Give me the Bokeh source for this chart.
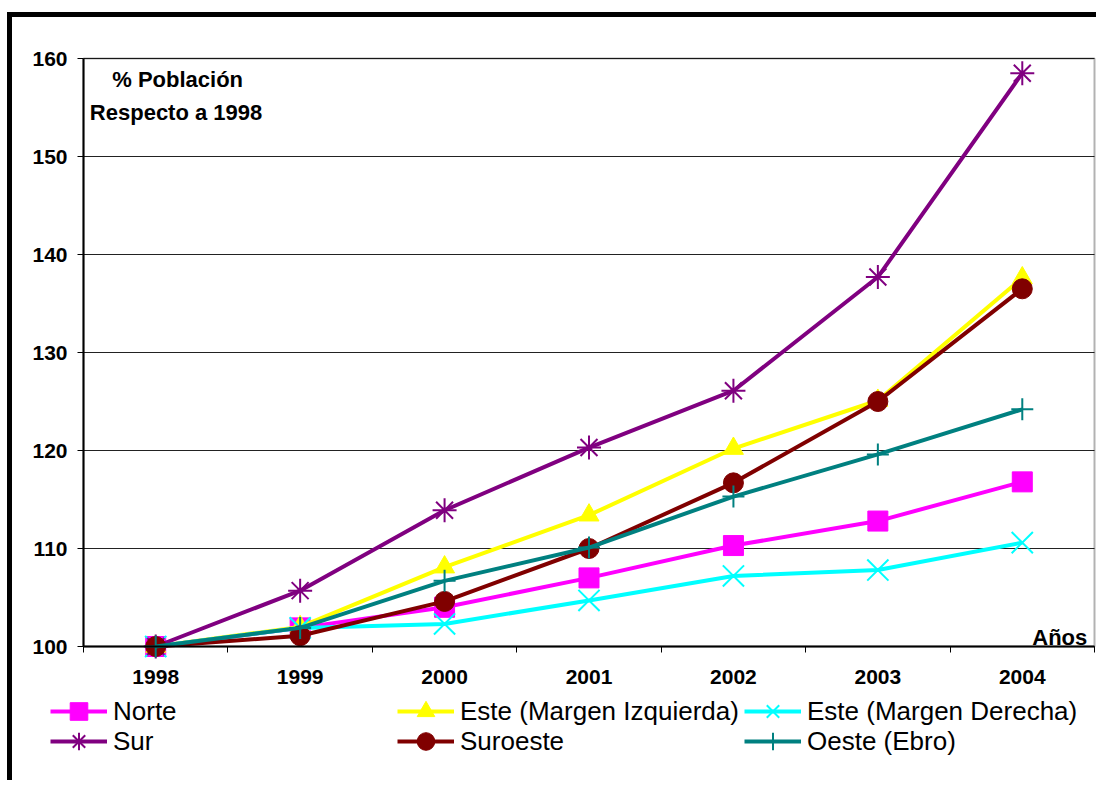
from bokeh.plotting import figure
from bokeh.models import (FixedTicker, Legend, LegendItem, Label, BoxAnnotation,
                          Range1d)
from bokeh.embed import file_html
from bokeh.resources import INLINE

# Population index by district (1998 = 100)
years = ["1998", "1999", "2000", "2001", "2002", "2003", "2004"]
norte = [100.0, 101.9, 104.0, 107.0, 110.3, 112.8, 116.8]
este_izq = [100.0, 102.0, 108.1, 113.4, 120.2, 125.1, 137.6]
este_der = [100.0, 101.9, 102.3, 104.7, 107.2, 107.8, 110.6]
sur = [100.0, 105.7, 113.9, 120.3, 126.1, 137.7, 158.5]
suroeste = [100.0, 101.1, 104.6, 110.0, 116.7, 125.0, 136.5]
oeste = [100.0, 101.9, 106.7, 110.1, 115.3, 119.6, 124.2]

series_names = ["Norte", "Este (Margen Izquierda)", "Este (Margen Derecha)",
                "Sur", "Suroeste", "Oeste (Ebro)"]
series_values = [norte, este_izq, este_der, sur, suroeste, oeste]
series_colors = ["#FF00FF", "#FFFF00", "#00FFFF", "#800080", "#800000", "#008080"]
series_markers = ["square", "triangle", "x", "asterisk", "circle", "cross"]
marker_sizes = [20, 20, 30, 24, 20, 22]

y_ticks = [100, 110, 120, 130, 140, 150, 160]
Y0, Y1 = 100, 160

# categories sit in the middle of each unit-wide slot
n = len(years)
xs = [i + 0.5 for i in range(n)]

FONT = "Liberation Sans"

# canvas geometry (px): the plotting box sits inside a larger frame so that the
# axis labels, notes and legend can all live in the same drawing area
W, H = 1089, 768
BOX_L, BOX_R, BOX_T, BOX_B = 71, 1082, 41, 629
ux = (BOX_R - BOX_L) / n
uy = (BOX_B - BOX_T) / (Y1 - Y0)
x_range = Range1d(-BOX_L / ux, n + (W - BOX_R) / ux)
y_range = Range1d(Y0 - (H - BOX_B) / uy, Y1 + BOX_T / uy)

p = figure(width=W, height=H, x_range=x_range, y_range=y_range,
           output_backend="svg", toolbar_location=None, min_border=0)
p.styles = {"border-top": "5px solid black", "border-left": "5px solid black"}
p.margin = (12, 0, 0, 7)

p.outline_line_color = None
p.background_fill_color = "white"
p.border_fill_color = "white"

# horizontal grid restricted to the plotting box
p.xgrid.visible = False
grid = p.ygrid[0]
grid.ticker = FixedTicker(ticks=y_ticks)
grid.grid_line_color = "#222222"
grid.grid_line_width = 1
if "cross_bounds" in grid.properties():
    grid.cross_bounds = (0, n)
else:
    grid.visible = False
    p.segment(x0=0, x1=n, y0=y_ticks, y1=y_ticks, line_color="#222222", line_width=1)

# x axis: labels at slot centres, tick marks at slot boundaries
xa = p.xaxis[0]
xa.fixed_location = Y0
xa.bounds = (0, n)
xa.ticker = FixedTicker(ticks=xs, minor_ticks=list(range(n + 1)))
xa.major_label_overrides = {x: y for x, y in zip(xs, years)}
xa.major_tick_out = 0
xa.major_tick_in = 0
xa.minor_tick_out = 6
xa.minor_tick_in = 0
xa.minor_tick_line_color = "black"
xa.minor_tick_line_width = 1
xa.axis_line_color = "black"
xa.axis_line_width = 2
xa.major_label_standoff = 17
xa.major_label_text_font = FONT
xa.major_label_text_font_style = "bold"
xa.major_label_text_font_size = "21px"
xa.major_label_text_color = "black"

ya = p.yaxis[0]
ya.fixed_location = 0
ya.bounds = (Y0, Y1)
ya.ticker = FixedTicker(ticks=y_ticks, minor_ticks=[])
ya.major_tick_out = 6
ya.major_tick_in = 0
ya.major_tick_line_color = "black"
ya.axis_line_color = "black"
ya.axis_line_width = 2
ya.major_label_standoff = 10
ya.major_label_text_font = FONT
ya.major_label_text_font_style = "bold"
ya.major_label_text_font_size = "21px"
ya.major_label_text_color = "black"

# border of the plotting box
p.add_layout(BoxAnnotation(left=0, right=n, bottom=Y0, top=Y1, fill_alpha=0,
                           line_color="black", line_width=2, level="underlay"))

items = []
for name, vals, col, mk, sz in zip(series_names, series_values, series_colors,
                                   series_markers, marker_sizes):
    ln = p.line(xs, vals, line_color=col, line_width=4)
    if mk in ("x", "asterisk", "cross"):
        sc = p.scatter(xs, vals, marker=mk, size=sz, line_color=col, line_width=2)
    else:
        sc = p.scatter(xs, vals, marker=mk, size=sz, fill_color=col, line_color=col)
    items.append(LegendItem(label=name, renderers=[ln, sc]))

# one legend per row, three entries each
legend_opts = dict(orientation="horizontal", padding=0, margin=0, spacing=0,
                   glyph_width=57, glyph_height=44, label_height=44,
                   label_width=284, label_standoff=6,
                   label_text_font=FONT, label_text_font_size="26px",
                   label_text_color="black",
                   border_line_color=None, background_fill_alpha=0)
p.add_layout(Legend(items=items[:3], location=(38, 52), **legend_opts), "center")
p.add_layout(Legend(items=items[3:], location=(38, 22), **legend_opts), "center")

for txt, x, y, align in [("% Población", 0.199, 157.9, "left"),
                         ("Respecto a 1998", 0.044, 154.5, "left"),
                         ("Años", 6.95, 100.9, "right")]:
    p.add_layout(Label(x=x, y=y, text=txt, text_font=FONT, text_font_style="bold",
                       text_font_size="22px", text_color="black", text_align=align,
                       text_baseline="alphabetic"))

open("out.html", "w").write(file_html(p, INLINE))
